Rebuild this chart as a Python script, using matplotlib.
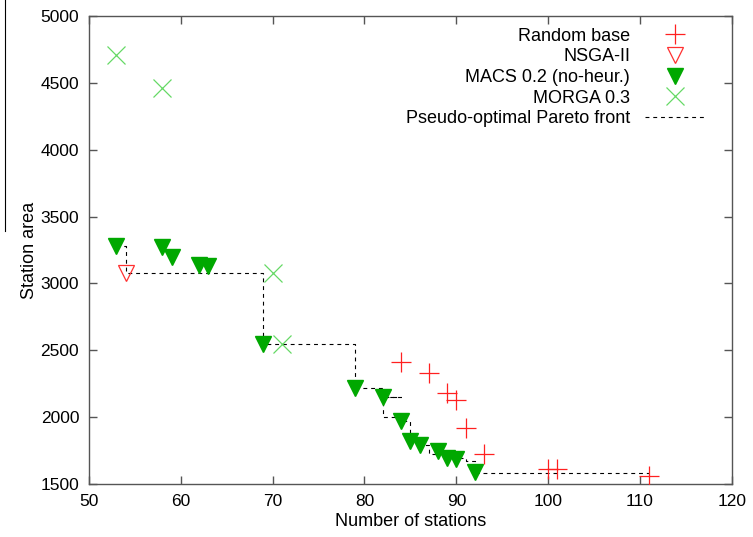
import matplotlib
matplotlib.use("Agg")
import matplotlib.pyplot as plt
from matplotlib.lines import Line2D

plt.rcParams['font.family'] = ['Liberation Sans', 'DejaVu Sans']

# data
random_x = [84, 87, 89, 90, 91, 93, 100, 101, 111]
random_y = [2410, 2330, 2180, 2130, 1920, 1720, 1610, 1610, 1555]

nsga_x = [54]
nsga_y = [3080]

macs_x = [53, 58, 59, 62, 63, 69, 79, 82, 84, 85, 86, 88, 89, 90, 92]
macs_y = [3280, 3270, 3200, 3140, 3130, 2550, 2220, 2150, 1970, 1820, 1790, 1745, 1690, 1685, 1585]

morga_x = [53, 58, 70, 71]
morga_y = [4710, 4465, 3080, 2550]

# pseudo-optimal front (drawn as steps)
front_x = [53, 54, 69, 79, 82, 84, 82, 84, 85, 86, 87, 89, 91, 92, 111]
front_y = [3280, 3080, 2550, 2220, 2150, 2150, 2000, 1970, 1820, 1790, 1720, 1690, 1670, 1580, 1580]

fig = plt.figure(figsize=(7.53, 5.37), dpi=100)
ax = fig.add_axes([0.118, 0.099, 0.854, 0.871])

ax.plot(front_x, front_y, drawstyle='steps-post', color='black', lw=0.8,
        linestyle=(0, (3.5, 3.5)), label='Pseudo-optimal Pareto front', zorder=1)
ax.plot(random_x, random_y, '+', color='#ff2020', markersize=15, mew=0.9,
        label='Random base', zorder=3)
ax.plot(nsga_x, nsga_y, 'v', color='#ff3030', mfc='none', markersize=12, mew=0.9,
        label='NSGA-II', zorder=3)
ax.plot(macs_x, macs_y, 'v', color='#00a800', markersize=12,
        label='MACS 0.2 (no-heur.)', zorder=2)
ax.plot(morga_x, morga_y, 'x', color='#66d966', markersize=13, mew=0.9,
        label='MORGA 0.3', zorder=3)

ax.set_xlim(50, 120)
ax.set_ylim(1500, 5000)
ax.set_xticks(range(50, 121, 10))
ax.set_yticks(range(1500, 5001, 500))
ax.tick_params(direction='in', length=6, width=1, color='#555555',
               top=True, right=True, labelsize=12.5, pad=7)
for s in ax.spines.values():
    s.set_color('#555555')
    s.set_linewidth(1)

ax.set_xlabel('Number of stations', fontsize=13, labelpad=3)
ax.set_ylabel('Station area', fontsize=13, labelpad=2)

handles, labels = ax.get_legend_handles_labels()
order = [1, 2, 3, 4, 0]
ax.legend([handles[i] for i in order], [labels[i] for i in order],
          loc='upper right', bbox_to_anchor=(0.985, 1.01), frameon=False,
          markerfirst=False, fontsize=13, handlelength=3.4,
          labelspacing=0.2, handletextpad=0.8)

# stray line at left edge of the scan
fig.add_artist(Line2D([0.006, 0.006], [1.0, 0.57], color='black', lw=0.8))

fig.savefig('out.png', dpi=100)
